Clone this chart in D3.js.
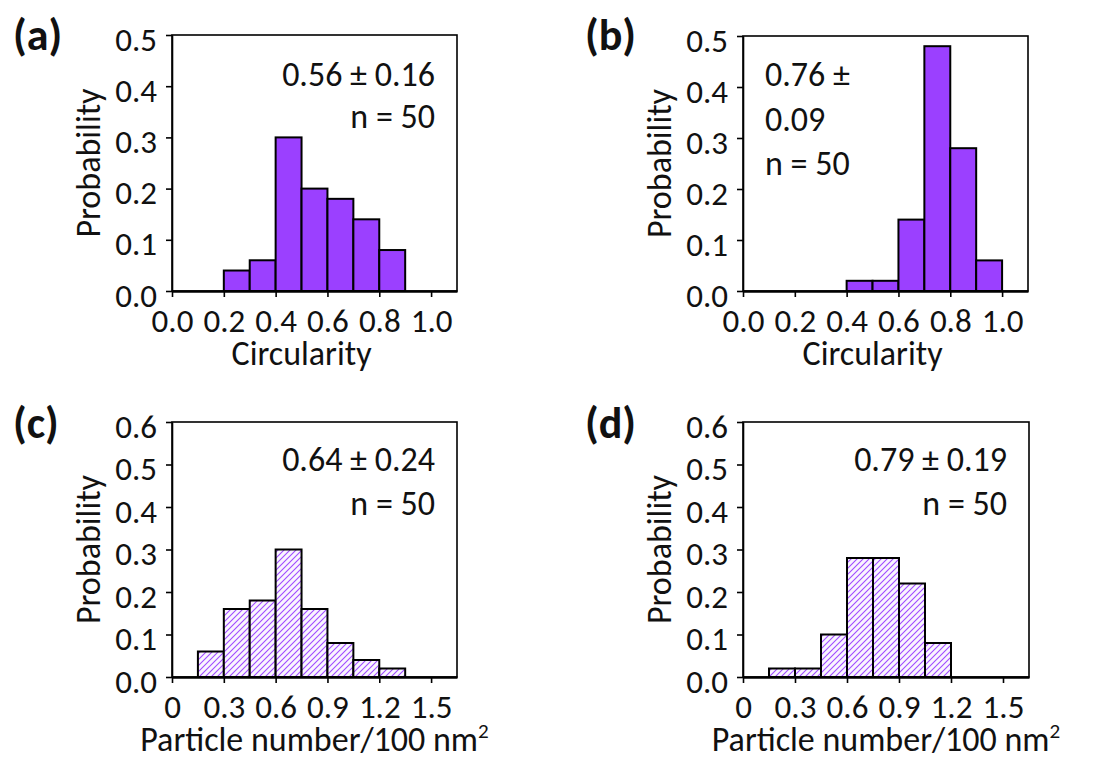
<!DOCTYPE html>
<html>
<head>
<meta charset="utf-8">
<script src="https://cdn.jsdelivr.net/npm/d3@7"></script>
<style>
  html, body { margin: 0; padding: 0; background: #fff; }
  svg text { font-family: Carlito, Calibri, "Open Sans", "Noto Sans", sans-serif; fill: #111; }
</style>
</head>
<body>
<svg id="chart" width="1103" height="760"></svg>
<script>
// ---- Data ----
const binsA = [0.2, 0.3, 0.4, 0.5, 0.6, 0.7, 0.8];
const probA = [0.04, 0.06, 0.30, 0.20, 0.18, 0.14, 0.08];
const binsB = [0.4, 0.5, 0.6, 0.7, 0.8, 0.9];
const probB = [0.02, 0.02, 0.14, 0.48, 0.28, 0.06];
const binsC = [0.15, 0.30, 0.45, 0.60, 0.75, 0.90, 1.05, 1.20];
const probC = [0.06, 0.16, 0.18, 0.30, 0.16, 0.08, 0.04, 0.02];
const binsD = [0.15, 0.30, 0.45, 0.60, 0.75, 0.90, 1.05];
const probD = [0.02, 0.02, 0.10, 0.28, 0.28, 0.22, 0.08];
const binWidthCirc = 0.1;
const binWidthPart = 0.15;

const xTicksCirc = [0.0, 0.2, 0.4, 0.6, 0.8, 1.0];
const xTickLabelsCirc = ["0.0", "0.2", "0.4", "0.6", "0.8", "1.0"];
const xTicksPart = [0, 0.3, 0.6, 0.9, 1.2, 1.5];
const xTickLabelsPart = ["0", "0.3", "0.6", "0.9", "1.2", "1.5"];
const yTicksA = [0, 0.1, 0.2, 0.3, 0.4, 0.5];
const yTicksC = [0, 0.1, 0.2, 0.3, 0.4, 0.5, 0.6];
const yTickLabelsA = ["0.0", "0.1", "0.2", "0.3", "0.4", "0.5"];
const yTickLabelsC = ["0.0", "0.1", "0.2", "0.3", "0.4", "0.5", "0.6"];

const panelLabels = ["(a)", "(b)", "(c)", "(d)"];
const annA = ["0.56 ± 0.16", "n = 50"];
const annB = ["0.76 ±", "0.09", "n = 50"];
const annC = ["0.64 ± 0.24", "n = 50"];
const annD = ["0.79 ± 0.19", "n = 50"];

// ---- Layout ----
const svg = d3.select("#chart");
const FILL = "#9b40ff";
const HATCH = "#a04cff";

const defs = svg.append("defs");
const pat = defs.append("pattern")
  .attr("id", "hatch").attr("patternUnits", "userSpaceOnUse")
  .attr("width", 6).attr("height", 6);
pat.append("rect").attr("width", 6).attr("height", 6).attr("fill", "#faf5ff");
pat.append("path").attr("d", "M-1,7 L7,-1 M-4,4 L4,-4 M2,10 L10,2")
  .attr("stroke", HATCH).attr("stroke-width", 1.1);

const panels = [
  { label: panelLabels[0], box: [172, 35, 457, 291], xDom: [0, 1.1], yDom: [0, 0.5],
    bins: binsA, prob: probA, bw: binWidthCirc, xt: xTicksCirc, xtl: xTickLabelsCirc,
    yt: yTicksA, ytl: yTickLabelsA, fill: FILL, xTitle: "Circularity", xTitleAt: 0.5,
    ann: annA, annAlign: "right", annBase: 86, annStep: 42, lab: [13, 50] },
  { label: panelLabels[1], box: [743, 36, 1028, 291], xDom: [0, 1.1], yDom: [0, 0.5],
    bins: binsB, prob: probB, bw: binWidthCirc, xt: xTicksCirc, xtl: xTickLabelsCirc,
    yt: yTicksA, ytl: yTickLabelsA, fill: FILL, xTitle: "Circularity", xTitleAt: 0.5,
    ann: annB, annAlign: "left", annBase: 86, annStep: 44.5, lab: [585, 50] },
  { label: panelLabels[2], box: [172, 422, 457, 677], xDom: [0, 1.65], yDom: [0, 0.6],
    bins: binsC, prob: probC, bw: binWidthPart, xt: xTicksPart, xtl: xTickLabelsPart,
    yt: yTicksC, ytl: yTickLabelsC, fill: "url(#hatch)", xTitle: "Particle number/100 nm", sup: "2", xTitleAt: 0.825,
    ann: annC, annAlign: "right", annBase: 471, annStep: 44, lab: [13, 438] },
  { label: panelLabels[3], box: [743, 422, 1029, 677], xDom: [0, 1.65], yDom: [0, 0.6],
    bins: binsD, prob: probD, bw: binWidthPart, xt: xTicksPart, xtl: xTickLabelsPart,
    yt: yTicksC, ytl: yTickLabelsC, fill: "url(#hatch)", xTitle: "Particle number/100 nm", sup: "2", xTitleAt: 0.825,
    ann: annD, annAlign: "right", annBase: 471, annStep: 44, lab: [585, 438] }
];

const TICK_FS = 33, TITLE_FS = 34, ANN_FS = 34, LAB_FS = 44;

panels.forEach(p => {
  const [l, t, r, b] = p.box;
  const x = d3.scaleLinear().domain(p.xDom).range([l, r]);
  const y = d3.scaleLinear().domain(p.yDom).range([b, t]);
  const g = svg.append("g");

  // bars
  g.selectAll("rect.bar").data(p.bins.map((s, i) => ({ s, v: p.prob[i] })))
    .enter().append("rect").attr("class", "bar")
    .attr("x", d => x(d.s)).attr("width", d => x(d.s + p.bw) - x(d.s))
    .attr("y", d => y(d.v)).attr("height", d => y(0) - y(d.v))
    .attr("fill", p.fill).attr("stroke", "#000").attr("stroke-width", 2);

  // frame
  g.append("rect").attr("x", l).attr("y", t).attr("width", r - l).attr("height", b - t)
    .attr("fill", "none").attr("stroke", "#000").attr("stroke-width", 1.6);

  // x axis
  const xAxis = d3.axisBottom(x).tickValues(p.xt).tickFormat((d, i) => p.xtl[i])
    .tickSize(6).tickSizeOuter(0);
  const xa = g.append("g").attr("transform", `translate(0,${b})`).call(xAxis);
  xa.attr("font-family", null).attr("font-size", null);
  xa.select(".domain").attr("stroke", "#000").attr("stroke-width", 2.4);
  xa.selectAll(".tick line").attr("stroke", "#000").attr("stroke-width", 1.6);
  xa.selectAll(".tick text").attr("font-size", TICK_FS).attr("fill", "#111")
    .attr("y", 41).attr("dy", null);

  // y axis
  const yAxis = d3.axisLeft(y).tickValues(p.yt).tickFormat((d, i) => p.ytl[i])
    .tickSize(6).tickSizeOuter(0).tickPadding(9);
  const ya = g.append("g").attr("transform", `translate(${l},0)`).call(yAxis);
  ya.attr("font-family", null).attr("font-size", null);
  ya.select(".domain").attr("stroke", "#000").attr("stroke-width", 1.6);
  ya.selectAll(".tick line").attr("stroke", "#000").attr("stroke-width", 1.6);
  ya.selectAll(".tick text").attr("font-size", TICK_FS).attr("fill", "#111")
    .attr("y", 15).attr("dy", null);

  // y title
  g.append("text").attr("transform", `translate(${l - 72},${(t + b) / 2}) rotate(-90)`)
    .attr("text-anchor", "middle").attr("font-size", TITLE_FS).text("Probability");

  // x title
  const xt = g.append("text").attr("x", x(p.xTitleAt)).attr("y", b + 74)
    .attr("text-anchor", "middle").attr("font-size", TITLE_FS).text(p.xTitle);
  if (p.sup) {
    xt.append("tspan").attr("font-size", TITLE_FS * 0.62).attr("dy", -13).text(p.sup);
  }

  // annotations
  p.ann.forEach((s, i) => {
    g.append("text")
      .attr("x", p.annAlign === "right" ? r - 22 : l + 22)
      .attr("y", p.annBase + i * p.annStep)
      .attr("text-anchor", p.annAlign === "right" ? "end" : "start")
      .attr("font-size", ANN_FS).text(s);
  });

  // panel label
  g.append("text").attr("x", p.lab[0]).attr("y", p.lab[1])
    .attr("font-size", LAB_FS).attr("font-weight", "bold").text(p.label);
});
</script>
</body>
</html>
